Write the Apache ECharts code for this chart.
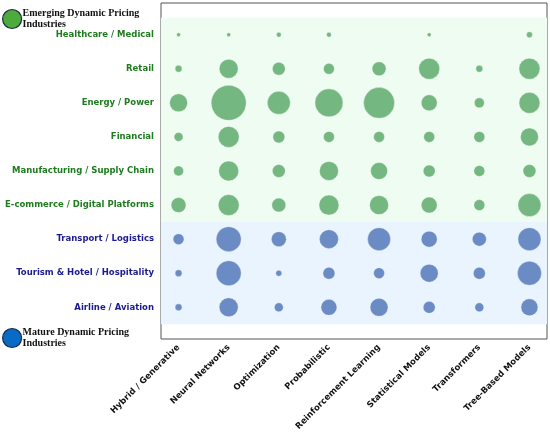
<!DOCTYPE html>
<html lang="en">
<head>
<meta charset="UTF-8">
<title>Dynamic Pricing Methods by Industry</title>
<script src="https://cdn.jsdelivr.net/npm/echarts@6/dist/echarts.min.js"></script>
<style>
  html, body { margin: 0; padding: 0; background: #fff; }
  #main { width: 550px; height: 436px; }
</style>
</head>
<body>
<div id="main"></div>
<script>
// methods on the x axis
var methods = ['Hybrid / Generative', 'Neural Networks', 'Optimization', 'Probabilistic',
  'Reinforcement Learning', 'Statistical Models', 'Transformers', 'Tree-Based Models'];

// industries on the y axis, top to bottom
var emergingIndustries = ['Healthcare / Medical', 'Retail', 'Energy / Power', 'Financial',
  'Manufacturing / Supply Chain', 'E-commerce / Digital Platforms'];
var matureIndustries = ['Transport / Logistics', 'Tourism & Hotel / Hospitality', 'Airline / Aviation'];

// counts per industry (rows) and method (columns)
var emergingCounts = [
  [4, 4, 6, 6, 0, 4, 0, 9],
  [12, 90, 42, 30, 49, 110, 12, 110],
  [81, 306, 132, 196, 240, 64, 25, 110],
  [20, 110, 36, 30, 30, 30, 30, 81],
  [25, 100, 42, 90, 72, 36, 30, 42],
  [56, 110, 49, 100, 90, 64, 30, 132]
];
var matureCounts = [
  [30, 156, 56, 90, 132, 64, 49, 132],
  [12, 156, 9, 36, 30, 81, 36, 144],
  [12, 90, 20, 64, 81, 36, 20, 72]
];

var emergingName = 'Emerging Dynamic Pricing\nIndustries';
var matureName = 'Mature Dynamic Pricing\nIndustries';

var industries = emergingIndustries.concat(matureIndustries);

// turn a count matrix into [x, y, count] points, offset by row start
function toPoints(counts, rowStart) {
  var pts = [];
  counts.forEach(function (row, i) {
    row.forEach(function (c, j) {
      if (c > 0) pts.push([j, rowStart + i, c]);
    });
  });
  return pts;
}

function bubbleSize(v) {
  return Math.sqrt(v[2]) * 2;
}

var methodTicks = methods.map(function (m, i) { return i; });
var industryTicks = industries.map(function (m, i) { return i; });
var nEmerging = emergingIndustries.length;

var legendText = {
  fontFamily: 'Liberation Serif',
  fontWeight: 'bold',
  fontSize: 10,
  lineHeight: 11,
  color: '#111',
  padding: [0, 0, 0, -4]
};

var option = {
  animation: false,
  grid: {
    left: 161, top: 3, right: 3, bottom: 97,
    show: true, borderColor: '#555', borderWidth: 1, backgroundColor: '#fff'
  },
  legend: [{
    left: 2, top: 8, padding: 0, itemWidth: 19, itemHeight: 19,
    selectedMode: false, textStyle: legendText,
    data: [{ name: emergingName, icon: 'circle',
      itemStyle: { color: '#4dab3b', borderColor: '#1d2b4a', borderWidth: 1.2 } }]
  }, {
    left: 2, top: 327, padding: 0, itemWidth: 19, itemHeight: 19,
    selectedMode: false, textStyle: legendText,
    data: [{ name: matureName, icon: 'circle',
      itemStyle: { color: '#0a6bc6', borderColor: '#1d2b4a', borderWidth: 1.2 } }]
  }],
  xAxis: {
    type: 'value', min: -0.35, max: 7.35,
    axisLine: { show: false },
    splitLine: { show: false },
    axisTick: { show: true, length: 4, lineStyle: { color: '#555' }, customValues: methodTicks },
    axisLabel: {
      customValues: methodTicks,
      rotate: 45, margin: 7,
      fontFamily: 'DejaVu Sans', fontWeight: 'bold', fontSize: 8.5, color: '#111',
      formatter: function (v) { return methods[Math.round(v)] || ''; }
    }
  },
  yAxis: {
    type: 'value', min: -0.93, max: 8.93, inverse: true,
    axisLine: { show: false },
    splitLine: { show: false },
    axisTick: { show: true, length: 4, lineStyle: { color: '#555' }, customValues: industryTicks },
    axisLabel: {
      customValues: industryTicks,
      margin: 7,
      fontFamily: 'DejaVu Sans', fontWeight: 'bold', fontSize: 8.5,
      color: function (v) { return Math.round(v) < nEmerging ? '#1e7b1e' : '#1b1b8e'; },
      formatter: function (v) { return industries[Math.round(v)] || ''; }
    }
  },
  series: [{
    name: emergingName,
    type: 'scatter',
    data: toPoints(emergingCounts, 0),
    symbolSize: bubbleSize,
    itemStyle: { color: '#75b780', borderColor: 'rgba(255,255,255,0.6)', borderWidth: 0.6, opacity: 1 },
    markArea: {
      silent: true,
      itemStyle: { color: '#effcf1' },
      data: [[{ yAxis: -0.5 }, { yAxis: nEmerging - 0.5 }]]
    }
  }, {
    name: matureName,
    type: 'scatter',
    data: toPoints(matureCounts, nEmerging),
    symbolSize: bubbleSize,
    itemStyle: { color: '#6a8bc4', borderColor: 'rgba(255,255,255,0.6)', borderWidth: 0.6, opacity: 1 },
    markArea: {
      silent: true,
      itemStyle: { color: '#eaf4fe' },
      data: [[{ yAxis: nEmerging - 0.5 }, { yAxis: industries.length - 0.5 }]]
    }
  }]
};

var myChart = echarts.init(document.getElementById('main'));
myChart.setOption(option);
</script>
</body>
</html>
